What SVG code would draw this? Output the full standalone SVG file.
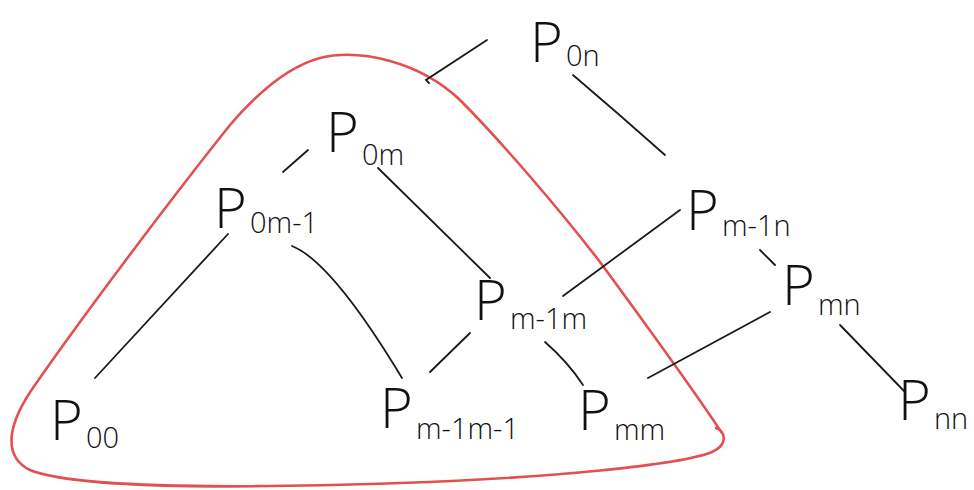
<svg xmlns="http://www.w3.org/2000/svg" width="974" height="490" viewBox="0 0 974 490">
<style>
.bg{fill:#ffffff}
.p{font-family:"Open Sans","Liberation Sans",sans-serif;font-weight:300;font-size:56px;fill:#111}
.s{font-family:"Open Sans","Liberation Sans",sans-serif;font-weight:300;font-size:29px;fill:#111}
.e{fill:none;stroke:#1a1a1a;stroke-width:1.8;stroke-linecap:round}
.loop{fill:none;stroke:#e2504f;stroke-width:2.6;stroke-linecap:round;stroke-linejoin:round}
</style>
<rect class="bg" x="0" y="0" width="974" height="490"/>
<g id="region">
<path class="loop" d="M722,433 C700,400 650,330 600,262 C560,210 500,140 460,100 C420,62 360,48 320,58 C290,66 260,90 230,125 C170,200 80,320 35,385 C10,420 0,455 30,470 C80,490 250,488 400,483 C550,478 680,465 712,452 C728,445 726,432 716,428"/>
</g>
<g id="connectors">
<path class="e" d="M429,83 L426,80 L487,40"/>
<path class="e" d="M573,75 Q620,115 665,155"/>
<path class="e" d="M283,172 L308,150"/>
<path class="e" d="M378,168 L490,278"/>
<path class="e" d="M228,234 L95,378"/>
<path class="e" d="M292,246 Q332,262 402,378"/>
<path class="e" d="M680,210 L563,296"/>
<path class="e" d="M760,250 L775,265"/>
<path class="e" d="M470,333 L430,372"/>
<path class="e" d="M545,342 Q568,362 583,385"/>
<path class="e" d="M770,312 L648,378"/>
<path class="e" d="M840,325 L905,392"/>
</g>
<g id="P0n"><text class="p" x="530" y="62">P</text><text class="s" x="566" y="66">0n</text></g>
<g id="P0m"><text class="p" x="326" y="152">P</text><text class="s" x="362" y="165">0m</text></g>
<g id="P0m-1"><text class="p" x="214" y="228">P</text><text class="s" x="250" y="233">0m-1</text></g>
<g id="Pm-1n"><text class="p" x="686" y="230">P</text><text class="s" x="722" y="236">m-1n</text></g>
<g id="Pm-1m"><text class="p" x="474" y="320">P</text><text class="s" x="510" y="329">m-1m</text></g>
<g id="Pmn"><text class="p" x="782" y="305">P</text><text class="s" x="818" y="315">mn</text></g>
<g id="Pm-1m-1"><text class="p" x="380" y="428">P</text><text class="s" x="416" y="439">m-1m-1</text></g>
<g id="Pmm"><text class="p" x="578" y="430">P</text><text class="s" x="614" y="440">mm</text></g>
<g id="Pnn"><text class="p" x="898" y="420">P</text><text class="s" x="934" y="429">nn</text></g>
<g id="P00"><text class="p" x="50" y="440">P</text><text class="s" x="86" y="448">00</text></g>
</svg>
